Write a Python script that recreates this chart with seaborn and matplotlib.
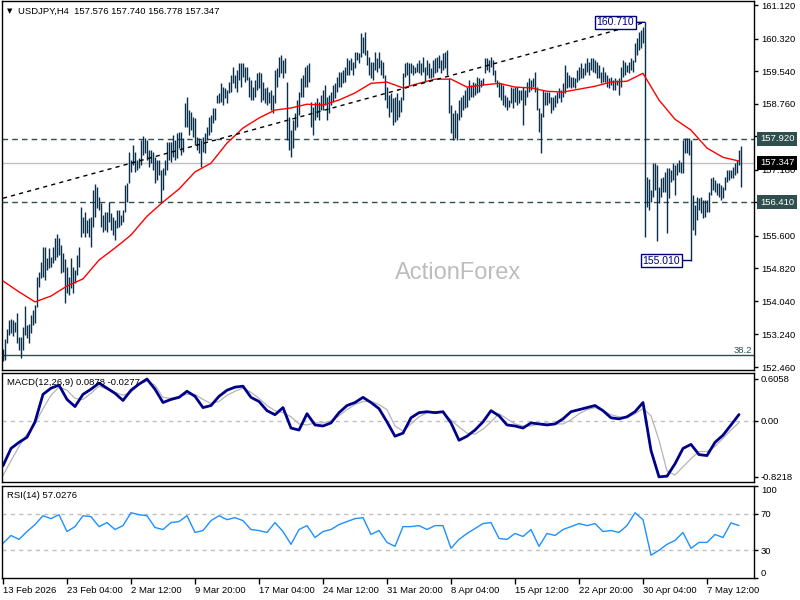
import numpy as np
import pandas as pd
import seaborn as sns
import matplotlib.pyplot as plt
import matplotlib.transforms as mtrans

# === data (H4 bars, index 0 = 13 Feb 2026 20:00) ===
title_text = "USDJPY,H4  157.576 157.740 156.778 157.347"

bar_high = [
    152.89, 153.13, 153.37, 153.59, 153.61, 153.59, 153.54, 153.75, 153.18, 153.18,
    153.42, 153.92, 153.47, 153.49, 153.71, 153.82, 153.94, 154.61, 154.73, 154.97,
    155.33, 155.33, 155.07, 155.31, 155.09, 155.33, 155.55, 155.64, 155.55, 155.38,
    155.19, 155.04, 154.85, 154.61, 155.07, 154.85, 154.78, 155.14, 155.33, 156.29,
    156.05, 156.17, 155.98, 156.03, 156.05, 156.70, 156.84, 156.77, 156.53, 156.38,
    156.10, 156.17, 156.17, 156.41, 156.15, 156.05, 155.98, 156.22, 156.22, 156.10,
    156.22, 156.81, 156.86, 157.60, 157.41, 157.77, 157.60, 157.41, 157.46, 157.89,
    157.99, 157.94, 157.89, 157.65, 157.65, 157.60, 157.48, 157.41, 157.41, 157.17,
    157.22, 157.41, 157.84, 157.84, 157.84, 158.01, 157.89, 158.06, 158.08, 158.08,
    157.94, 158.78, 158.92, 158.61, 158.56, 158.44, 158.42, 157.96, 157.94, 157.89,
    157.96, 158.06, 158.20, 158.44, 158.49, 158.66, 158.66, 158.97, 159.02, 159.25,
    159.16, 159.13, 159.09, 159.28, 159.45, 159.64, 159.45, 159.57, 159.73, 159.73,
    159.73, 159.64, 159.64, 159.40, 159.33, 159.16, 159.33, 159.49, 159.52, 159.49,
    159.28, 159.13, 159.16, 159.04, 159.09, 158.97, 159.57, 159.61, 159.88, 159.92,
    159.80, 159.85, 159.28, 158.44, 158.13, 158.37, 158.54, 158.85, 159.04, 159.37,
    159.45, 159.64, 159.69, 159.73, 158.80, 158.68, 158.80, 158.90, 158.80, 158.97,
    159.09, 159.21, 158.92, 158.97, 159.04, 159.21, 159.25, 159.40, 159.52, 159.52,
    159.57, 159.64, 159.85, 159.80, 159.85, 159.76, 160.00, 160.00, 159.97, 160.45,
    160.35, 160.47, 160.04, 159.88, 159.76, 159.76, 160.00, 159.85, 160.00, 159.80,
    159.76, 159.45, 159.16, 158.97, 159.02, 158.90, 158.92, 159.02, 158.85, 158.92,
    159.49, 159.73, 159.76, 159.73, 159.73, 159.69, 159.64, 159.73, 159.80, 159.73,
    159.88, 159.64, 159.80, 159.73, 159.61, 159.80, 159.85, 159.88, 159.92, 159.80,
    159.97, 160.00, 160.04, 159.37, 158.73, 158.54, 158.61, 158.54, 158.85, 158.92,
    158.97, 159.09, 159.16, 159.33, 159.21, 159.28, 159.25, 159.40, 159.37, 159.33,
    159.37, 159.85, 159.85, 159.80, 159.88, 159.80, 159.57, 159.33, 159.28, 159.25,
    159.21, 158.97, 158.92, 158.85, 159.16, 159.13, 159.16, 159.16, 159.09, 159.09,
    159.16, 159.09, 159.28, 159.37, 159.33, 159.37, 159.52, 159.16, 158.66, 158.54,
    159.09, 159.04, 159.04, 159.04, 158.92, 158.92, 158.97, 159.04, 159.13, 159.09,
    159.25, 159.69, 159.52, 159.45, 159.40, 159.40, 159.37, 159.57, 159.64, 159.73,
    159.61, 159.73, 159.85, 159.76, 159.85, 159.85, 159.80, 159.76, 159.69, 159.52,
    159.64, 159.52, 159.45, 159.37, 159.40, 159.33, 159.37, 159.33, 159.37, 159.64,
    159.80, 159.76, 159.69, 159.76, 159.85, 159.80, 160.21, 160.33, 160.47, 160.52,
    160.59, 160.71, 157.00, 156.96, 156.70, 157.34, 157.34, 157.29, 156.77, 156.98,
    157.01, 157.13, 157.22, 157.22, 157.17, 157.34, 157.29, 157.34, 157.41, 157.37,
    157.89, 157.94, 157.94, 157.94, 157.89, 156.58, 156.34, 156.53, 156.50, 156.53,
    156.46, 156.46, 156.46, 156.65, 156.98, 157.01, 156.93, 156.86, 156.86, 156.81,
    156.77, 157.01, 157.17, 157.17, 157.17, 157.25, 157.34, 157.41, 157.65, 157.74,
]

bar_low = [
    152.61, 152.63, 153.04, 153.23, 153.27, 153.20, 153.30, 153.04, 152.87, 152.68,
    152.87, 153.23, 153.16, 153.04, 153.27, 153.47, 153.51, 153.90, 154.37, 154.59,
    154.61, 154.54, 154.78, 154.83, 154.85, 154.95, 155.02, 155.09, 155.14, 154.71,
    154.73, 153.99, 154.23, 154.18, 154.35, 154.23, 154.47, 154.66, 154.85, 155.57,
    155.67, 155.57, 155.67, 155.57, 155.33, 155.81, 156.05, 156.26, 156.22, 155.81,
    155.69, 155.74, 155.69, 155.93, 155.74, 155.62, 155.50, 155.79, 155.81, 155.86,
    155.93, 156.17, 156.41, 156.86, 157.13, 157.29, 157.13, 157.17, 157.22, 157.29,
    157.53, 157.58, 157.41, 157.25, 157.34, 157.17, 156.86, 156.93, 157.05, 156.41,
    156.70, 157.05, 157.17, 157.41, 157.37, 157.48, 157.41, 157.46, 157.70, 157.53,
    157.60, 158.20, 158.20, 158.01, 158.13, 157.96, 157.77, 157.65, 157.58, 157.25,
    157.60, 157.58, 157.89, 158.01, 158.08, 158.30, 158.37, 158.78, 158.78, 158.80,
    158.73, 158.90, 158.78, 159.02, 159.04, 159.25, 159.13, 159.04, 159.33, 159.16,
    159.40, 159.28, 159.33, 158.92, 158.85, 158.85, 158.92, 159.09, 159.13, 158.80,
    158.85, 158.78, 158.73, 158.78, 158.61, 158.54, 158.78, 159.16, 159.40, 159.49,
    159.37, 159.49, 157.89, 157.65, 157.48, 157.70, 158.13, 158.20, 158.49, 158.92,
    158.92, 159.16, 159.16, 159.28, 158.20, 158.01, 158.37, 158.44, 158.37, 158.61,
    158.61, 158.73, 158.37, 158.54, 158.73, 158.80, 158.90, 159.04, 159.16, 159.16,
    159.25, 159.28, 159.45, 159.45, 159.57, 159.45, 159.61, 159.80, 159.73, 159.88,
    159.97, 159.92, 159.69, 159.45, 159.37, 159.33, 159.57, 159.52, 159.61, 159.45,
    159.37, 158.85, 158.66, 158.44, 158.56, 158.25, 158.32, 158.37, 158.44, 158.56,
    158.85, 159.40, 159.45, 159.21, 159.49, 159.45, 159.49, 159.52, 159.49, 159.45,
    159.52, 159.28, 159.45, 159.37, 159.37, 159.40, 159.49, 159.52, 159.61, 159.49,
    159.57, 159.61, 159.45, 158.54, 158.06, 157.89, 157.94, 157.89, 158.37, 158.44,
    158.61, 158.66, 158.68, 158.85, 158.92, 158.92, 158.97, 159.02, 159.04, 159.16,
    159.21, 159.49, 159.57, 159.52, 159.64, 159.45, 159.28, 159.16, 158.92, 158.85,
    158.73, 158.68, 158.61, 158.68, 158.78, 158.66, 158.80, 158.73, 158.78, 158.85,
    158.25, 158.73, 158.92, 159.04, 159.09, 159.16, 159.04, 158.61, 158.08, 157.58,
    158.44, 158.73, 158.73, 158.78, 158.54, 158.61, 158.68, 158.78, 158.90, 158.80,
    158.92, 159.02, 159.13, 159.16, 159.13, 159.16, 159.13, 159.28, 159.33, 159.37,
    159.37, 159.45, 159.52, 159.45, 159.57, 159.52, 159.49, 159.37, 159.37, 159.25,
    159.28, 159.28, 159.16, 159.13, 159.21, 159.09, 159.09, 159.21, 158.97, 159.16,
    159.40, 159.45, 159.52, 159.49, 159.57, 159.52, 159.76, 159.92, 160.04, 160.09,
    160.21, 155.57, 156.30, 156.22, 156.41, 156.53, 156.70, 155.48, 156.38, 156.53,
    156.65, 156.65, 155.67, 156.50, 156.89, 156.93, 156.58, 157.05, 157.13, 157.10,
    157.10, 157.58, 157.58, 157.53, 155.01, 155.74, 155.62, 155.98, 156.22, 156.15,
    156.03, 156.05, 156.17, 156.17, 156.58, 156.70, 156.65, 156.58, 156.53, 156.46,
    156.50, 156.70, 156.89, 156.93, 156.98, 156.98, 157.05, 157.10, 157.29, 156.78,
]

# moving average, one reading every 8 bars
ma_step = 8
ma_vals = [
    154.52, 154.26, 154.02, 154.16, 154.40, 154.57, 155.02, 155.31, 155.62, 156.07,
    156.41, 156.72, 157.13, 157.34, 157.82, 158.18, 158.42, 158.61, 158.66, 158.75,
    158.73, 158.85, 159.02, 159.25, 159.28, 159.14, 159.25, 159.35, 159.35, 159.16,
    159.21, 159.25, 159.16, 159.14, 159.06, 159.04, 159.11, 159.18, 159.28, 159.30,
    159.49, 158.85, 158.39, 158.13, 157.70, 157.48, 157.39,
]

# oscillators, one reading every 4 bars
osc_step = 4
macd_main = [
    -0.659, -0.406, -0.317, -0.243, -0.019, 0.382, 0.472, 0.516, 0.308, 0.204,
    0.382, 0.457, 0.546, 0.472, 0.397, 0.293, 0.442, 0.531, 0.605, 0.457,
    0.263, 0.308, 0.338, 0.427, 0.353, 0.189, 0.219, 0.353, 0.442, 0.487,
    0.501, 0.338, 0.278, 0.144, 0.085, 0.189, -0.109, -0.138, 0.100, -0.064,
    -0.079, -0.034, 0.115, 0.219, 0.263, 0.338, 0.263, 0.174, -0.019, -0.228,
    -0.183, 0.040, 0.115, 0.129, 0.115, 0.129, -0.034, -0.287, -0.228, -0.138,
    -0.019, 0.144, 0.070, -0.064, -0.079, -0.109, -0.034, -0.049, -0.064, -0.049,
    0.025, 0.129, 0.159, 0.189, 0.219, 0.144, 0.040, 0.025, 0.055, 0.129,
    0.263, -0.436, -0.820, -0.810, -0.630, -0.406, -0.347, -0.496, -0.510, -0.317,
    -0.213, -0.064, 0.088,
]
macd_signal = [
    -0.800, -0.585, -0.377, -0.198, -0.049, 0.174, 0.368, 0.487, 0.442, 0.323,
    0.308, 0.397, 0.501, 0.457, 0.412, 0.368, 0.412, 0.531, 0.576, 0.516,
    0.338, 0.323, 0.353, 0.382, 0.382, 0.308, 0.249, 0.278, 0.368, 0.427,
    0.472, 0.412, 0.323, 0.219, 0.144, 0.115, 0.055, -0.049, -0.064, -0.034,
    -0.034, -0.004, 0.070, 0.159, 0.234, 0.278, 0.278, 0.234, 0.159, -0.079,
    -0.153, -0.049, 0.055, 0.115, 0.129, 0.115, 0.010, -0.094, -0.183, -0.198,
    -0.124, -0.019, 0.100, 0.025, -0.049, -0.079, -0.079, -0.049, -0.034, -0.049,
    -0.049, 0.010, 0.100, 0.159, 0.189, 0.144, 0.085, 0.055, 0.040, 0.100,
    0.174, 0.070, -0.287, -0.734, -0.793, -0.674, -0.555, -0.451, -0.451, -0.377,
    -0.258, -0.138, -0.028,
]
rsi_vals = [
    37.6, 46.2, 41.9, 50.5, 58.1, 67.8, 64.6, 68.9, 50.5, 55.9,
    67.8, 66.8, 55.9, 60.3, 52.7, 57.0, 71.1, 68.9, 67.8, 54.9,
    52.7, 60.3, 61.4, 67.8, 49.5, 51.6, 62.4, 67.8, 63.5, 65.7,
    62.4, 52.7, 51.6, 49.5, 60.3, 50.5, 36.5, 52.7, 57.0, 44.0,
    50.5, 52.7, 58.1, 61.4, 64.6, 65.7, 47.3, 51.6, 38.6, 34.3,
    55.9, 55.9, 57.0, 52.7, 57.0, 57.0, 32.2, 41.9, 48.4, 53.8,
    59.2, 60.3, 43.0, 41.9, 48.4, 45.1, 52.7, 34.3, 48.4, 46.2,
    52.7, 55.9, 59.2, 57.0, 59.2, 50.5, 51.6, 49.5, 57.0, 71.0,
    63.5, 24.6, 30.0, 36.5, 40.8, 49.5, 32.2, 38.6, 38.6, 47.3,
    44.0, 60.0, 57.0,
]

# levels / objects
res_level = 157.920
sup_level = 156.410
last_price = 157.347
fib_level = 152.75
trend_bars = [0, 321]
trend_prices = [156.50, 160.71]
peak_bar, peak_price = 321, 160.71
trough_bar, trough_price = 344, 155.01

price_ticks = [161.12, 160.32, 159.54, 158.76, 157.98, 157.18,
               156.40, 155.60, 154.82, 154.04, 153.24, 152.46]
macd_ticks = [0.6058, 0.0, -0.8218]
macd_tick_labels = ["0.6058", "0.00", "-0.8218"]
rsi_ticks = [100, 70, 30, 0]
date_labels = ["13 Feb 2026", "23 Feb 04:00", "2 Mar 12:00", "9 Mar 20:00",
               "17 Mar 04:00", "24 Mar 12:00", "31 Mar 20:00", "8 Apr 04:00",
               "15 Apr 12:00", "22 Apr 20:00", "30 Apr 04:00", "7 May 12:00"]
date_step = 32

assert len(bar_high) == len(bar_low)
assert len(macd_main) == len(macd_signal) == len(rsi_vals)

# === style ===
sns.set_style("white")
plt.rcParams["font.family"] = ["Liberation Sans", "DejaVu Sans"]

BAR_COL = "#0a2f4a"
SLATE = "#2f4f4f"
FS = 6.8
W, H = 800, 600

fig = plt.figure(figsize=(8, 6), dpi=100, facecolor="white")


def px_axes(x0, y0, x1, y1):
    return fig.add_axes([x0 / W, 1 - y1 / H, (x1 - x0) / W, (y1 - y0) / H])


ax = px_axes(2, 1, 754, 370)
ax_macd = px_axes(2, 373, 754, 482)
ax_rsi = px_axes(2, 486, 754, 578)

for a in (ax, ax_macd, ax_rsi):
    a.set_facecolor("white")
    a.set_xlim(-0.5, 375.5)
    for s in a.spines.values():
        s.set_color("black")
        s.set_linewidth(1)
    a.yaxis.tick_right()
    a.tick_params(axis="y", right=True, labelright=True, left=False, labelleft=False,
                  direction="out", length=3, width=1, pad=2, labelsize=FS, colors="black")
    a.tick_params(axis="x", bottom=False, labelbottom=False)

# === main price panel ===
idx = np.arange(len(bar_high))
ax.vlines(idx, bar_low, bar_high, color=BAR_COL, lw=1.0, zorder=2)

ma_df = pd.DataFrame({"bar": np.arange(len(ma_vals)) * ma_step, "ma": ma_vals})
sns.lineplot(data=ma_df, x="bar", y="ma", ax=ax, color="red", lw=1, zorder=3)

ax.plot(trend_bars, trend_prices, color="black", lw=1, ls=(0, (3, 3)), zorder=3)
ax.axhline(res_level, color=SLATE, lw=1, ls=(0, (4, 3)), zorder=1)
ax.axhline(sup_level, color=SLATE, lw=1, ls=(0, (4, 3)), zorder=1)
ax.axhline(last_price, color="#c0c0c0", lw=1, zorder=1)
ax.axhline(fib_level, color=SLATE, lw=1, zorder=1)

ax.set_ylim(152.39, 161.22)
ax.set_yticks(price_ticks)
ax.set_yticklabels([f"{p:.3f}" for p in price_ticks])
ax.set_xlabel("")
ax.set_ylabel("")

blend = mtrans.blended_transform_factory(ax.transAxes, ax.transData)
for lvl, bg in [(res_level, SLATE), (last_price, "black"), (sup_level, SLATE)]:
    ax.text(1.008, lvl, f"{lvl:.3f}", transform=blend, ha="left", va="center",
            fontsize=FS, color="white", clip_on=False, zorder=5,
            bbox=dict(boxstyle="square,pad=0.3", fc=bg, ec="none"))

ax.text(0.997, fib_level, "38.2", transform=blend, ha="right", va="bottom",
        fontsize=FS, color=SLATE)

box = dict(boxstyle="square,pad=0.15", fc="white", ec="#000080", lw=1)
arrow = dict(arrowstyle="-", color="#000080", lw=1, shrinkA=0, shrinkB=0)
ax.annotate(f"{peak_price:.3f}", xy=(peak_bar, peak_price), xytext=(-11, 0),
            textcoords="offset pixels", ha="right", va="center", fontsize=7.5,
            color="#000080", bbox=box, arrowprops=arrow, zorder=5)
ax.annotate(f"{trough_price:.3f}", xy=(trough_bar, trough_price), xytext=(-11, 0),
            textcoords="offset pixels", ha="right", va="center", fontsize=7.5,
            color="#000080", bbox=box, arrowprops=arrow, zorder=5)

ax.text(0.606, 0.263, "ActionForex", transform=ax.transAxes, ha="center", va="center",
        fontsize=17, color="#bdbdbd", zorder=0)
ax.text(0.0107, 0.973, "\u25bc", transform=ax.transAxes, ha="center", va="center",
        fontsize=5, color="black", family=["DejaVu Sans"])
ax.text(0.021, 0.973, title_text, transform=ax.transAxes, ha="left", va="center",
        fontsize=FS, color="black")

# === MACD panel ===
osc_bars = np.arange(len(macd_main)) * osc_step
macd_df = pd.DataFrame({"bar": osc_bars, "main": macd_main, "signal": macd_signal})
ax_macd.axhline(0, color="#c0c0c0", lw=1, ls=(0, (3, 3)))
sns.lineplot(data=macd_df, x="bar", y="signal", ax=ax_macd, color="#b4b4b4", lw=0.9)
sns.lineplot(data=macd_df, x="bar", y="main", ax=ax_macd, color="#00008b", lw=2)
ax_macd.set_ylim(-0.895, 0.693)
ax_macd.set_yticks(macd_ticks)
ax_macd.set_yticklabels(macd_tick_labels)
ax_macd.set_xlabel("")
ax_macd.set_ylabel("")
ax_macd.text(0.0066, 0.915, "MACD(12,26,9) 0.0878 -0.0277", transform=ax_macd.transAxes,
             ha="left", va="center", fontsize=FS, color="black")

# === RSI panel ===
rsi_df = pd.DataFrame({"bar": osc_bars, "rsi": rsi_vals})
ax_rsi.axhline(70, color="#c0c0c0", lw=1, ls=(0, (3, 3)))
ax_rsi.axhline(30, color="#c0c0c0", lw=1, ls=(0, (3, 3)))
sns.lineplot(data=rsi_df, x="bar", y="rsi", ax=ax_rsi, color="#1e90ff", lw=1)
ax_rsi.set_ylim(-0.3, 100.3)
ax_rsi.set_yticks(rsi_ticks)
ax_rsi.set_yticklabels([str(t) for t in rsi_ticks])
ylabels = ax_rsi.get_yticklabels()
ylabels[0].set_va("top")
ylabels[-1].set_va("bottom")
ax_rsi.set_xlabel("")
ax_rsi.set_ylabel("")
ax_rsi.text(0.0066, 0.9, "RSI(14) 57.0276", transform=ax_rsi.transAxes,
            ha="left", va="center", fontsize=FS, color="black")

ax_rsi.set_xticks(np.arange(len(date_labels)) * date_step)
ax_rsi.set_xticklabels(date_labels, ha="left")
ax_rsi.tick_params(axis="x", bottom=True, labelbottom=True, direction="out",
                   length=4, width=1, pad=2, labelsize=FS, colors="black")

fig.savefig("out.png", dpi=100, facecolor="white")
